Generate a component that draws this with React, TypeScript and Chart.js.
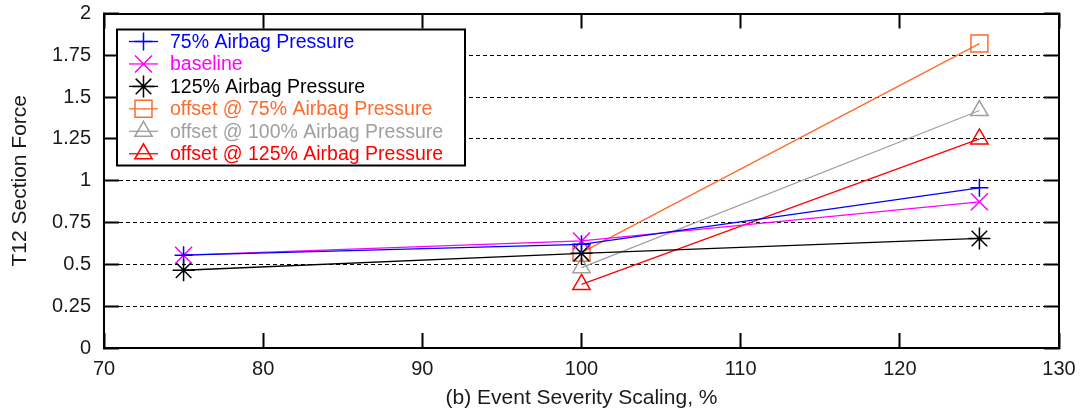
import React, { useEffect, useRef } from 'react';
import { Chart, registerables } from 'chart.js';
import { drawPoint } from 'chart.js/helpers';

Chart.register(...registerables);

// ---- data ----
const xTickValues = [70, 80, 90, 100, 110, 120, 130];
const yTickValues = [0, 0.25, 0.5, 0.75, 1, 1.25, 1.5, 1.75, 2];

const severity = [75, 100, 125];
const severityOffset = [100, 125];

const airbag75 = [0.555, 0.62, 0.958];
const baseline = [0.555, 0.64, 0.874];
const airbag125 = [0.465, 0.566, 0.655];
const offset75 = [0.57, 1.82];
const offset100 = [0.48, 1.42];
const offset125 = [0.38, 1.25];

const seriesNames = [
  '75% Airbag Pressure',
  'baseline',
  '125% Airbag Pressure',
  'offset @ 75% Airbag Pressure',
  'offset @ 100% Airbag Pressure',
  'offset @ 125% Airbag Pressure',
];
const seriesColors = ['#0000ff', '#ff00ff', '#000000', '#ff6a2a', '#a0a0a0', '#ff0000'];
const seriesStyles = ['cross', 'crossRot', 'star', 'rect', 'triangle', 'triangle'];
const seriesRadius = [9, 12, 11, 12, 10, 10];

const xTitle = '(b) Event Severity Scaling, %';
const yTitle = 'T12 Section Force';

const FONT = "'Liberation Sans', Arial, Helvetica, sans-serif";
const TEXT = '#1a1a1a';
const TICK_LEN = -15; // negative: tick marks point into the plot

function pairs(xs: number[], ys: number[]) {
  return xs.map((x, i) => ({ x, y: ys[i] }));
}

function drawLegend(chart: any) {
  const ctx = chart.ctx;
  const ca = chart.chartArea;
  const left = ca.left + 13;
  const top = ca.top + 16;
  const w = 348;
  const rowH = 22.45;
  const h = 136;
  ctx.save();
  ctx.setLineDash([]);
  ctx.fillStyle = '#fff';
  ctx.fillRect(left, top, w, h);
  ctx.strokeStyle = '#000';
  ctx.lineWidth = 2;
  ctx.strokeRect(left, top, w, h);
  ctx.font = `19.5px ${FONT}`;
  ctx.textBaseline = 'middle';
  ctx.textAlign = 'left';
  chart.data.datasets.forEach((ds: any, i: number) => {
    const cy = top + 12 + i * rowH;
    ctx.strokeStyle = ds.borderColor;
    ctx.lineWidth = 1.3;
    ctx.beginPath();
    ctx.moveTo(left + 12, cy);
    ctx.lineTo(left + 41, cy);
    ctx.stroke();
    ctx.fillStyle = 'rgba(0,0,0,0)';
    ctx.lineWidth = 1.5;
    drawPoint(ctx, { pointStyle: ds.pointStyle, radius: ds.pointRadius, rotation: 0, borderWidth: 1.5 }, left + 26.5, cy);
    ctx.fillStyle = ds.borderColor;
    ctx.fillText(ds.label, left + 53, cy + 1, w - 53 - 6);
  });
  ctx.restore();
}

const legendPlugin = {
  id: 'insideLegend',
  afterDraw(chart: any) {
    drawLegend(chart);
  },
};

const setXTicks = (s: any) => {
  s.ticks = xTickValues.map((v) => ({ value: v }));
};
const setYTicks = (s: any) => {
  s.ticks = yTickValues.map((v) => ({ value: v }));
};
const zeroPad = (s: any) => {
  s.paddingTop = 0;
  s.paddingBottom = 0;
  s.paddingLeft = 0;
  s.paddingRight = 0;
};

const tickGrid = {
  drawOnChartArea: false,
  drawTicks: true,
  tickLength: TICK_LEN,
  tickWidth: 2,
  tickColor: '#000',
};
const solidBorder = { display: true, width: 2, color: '#000' };

export default function App() {
  const canvasRef = useRef<HTMLCanvasElement | null>(null);

  useEffect(() => {
    const canvas = canvasRef.current;
    if (!canvas) return;
    const seriesData = [
      pairs(severity, airbag75),
      pairs(severity, baseline),
      pairs(severity, airbag125),
      pairs(severityOffset, offset75),
      pairs(severityOffset, offset100),
      pairs(severityOffset, offset125),
    ];
    const chart = new Chart(canvas, {
      type: 'line',
      data: {
        datasets: seriesData.map((d, i) => ({
          label: seriesNames[i],
          data: d,
          borderColor: seriesColors[i],
          backgroundColor: seriesColors[i],
          borderWidth: 1.3,
          pointStyle: seriesStyles[i] as any,
          pointRadius: seriesRadius[i],
          pointBorderColor: seriesColors[i],
          pointBackgroundColor: 'rgba(0,0,0,0)',
          pointBorderWidth: 1.5,
          fill: false,
          tension: 0,
          xAxisID: 'x',
          yAxisID: 'y',
        })),
      },
      options: {
        animation: false,
        responsive: false,
        maintainAspectRatio: false,
        layout: { padding: { left: 8, top: 13, right: 22, bottom: 0 } },
        plugins: {
          legend: { display: false },
          tooltip: { enabled: false },
          title: { display: false },
        },
        scales: {
          x: {
            type: 'linear',
            position: 'bottom',
            min: 70,
            max: 130,
            afterBuildTicks: setXTicks,
            afterFit: (s: any) => {
              s.height = 70;
              zeroPad(s);
            },
            grid: tickGrid,
            border: solidBorder,
            ticks: {
              padding: 24,
              color: TEXT,
              font: { family: FONT, size: 20 },
              maxRotation: 0,
              autoSkip: false,
            },
            title: {
              display: true,
              text: xTitle,
              color: TEXT,
              font: { family: FONT, size: 21 },
              padding: { top: 0, bottom: 7 },
            },
          },
          x2: {
            type: 'linear',
            position: 'top',
            min: 70,
            max: 130,
            afterBuildTicks: setXTicks,
            afterFit: (s: any) => {
              s.height = 0;
              zeroPad(s);
            },
            grid: tickGrid,
            border: solidBorder,
            ticks: { display: false },
          },
          y: {
            type: 'linear',
            position: 'left',
            min: 0,
            max: 2,
            afterBuildTicks: setYTicks,
            afterFit: (s: any) => {
              s.width = 96;
              zeroPad(s);
            },
            grid: {
              drawOnChartArea: true,
              drawTicks: true,
              tickLength: TICK_LEN,
              tickWidth: 2,
              tickColor: '#000',
              lineWidth: 1,
              color: (c: any) =>
                c.tick && (c.tick.value === 0 || c.tick.value === 2) ? 'rgba(0,0,0,0)' : '#000',
            },
            border: { display: true, width: 2, color: '#000', dash: [4, 3] },
            ticks: {
              padding: 28,
              color: TEXT,
              font: { family: FONT, size: 20 },
              autoSkip: false,
              callback: (v: any) => String(v),
            },
            title: {
              display: true,
              text: yTitle,
              color: TEXT,
              font: { family: FONT, size: 21 },
              padding: { top: 0, bottom: 0 },
            },
          },
          y2: {
            type: 'linear',
            position: 'right',
            min: 0,
            max: 2,
            afterBuildTicks: setYTicks,
            afterFit: (s: any) => {
              s.width = 0;
              zeroPad(s);
            },
            grid: tickGrid,
            border: solidBorder,
            ticks: { display: false },
          },
        },
      },
      plugins: [legendPlugin],
    });
    return () => chart.destroy();
  }, []);

  return (
    <div style={{ position: 'absolute', left: 0, top: 0, width: 1081, height: 418, background: '#fff' }}>
      <canvas ref={canvasRef} width={1081} height={418} style={{ display: 'block', width: 1081, height: 418 }} />
    </div>
  );
}
